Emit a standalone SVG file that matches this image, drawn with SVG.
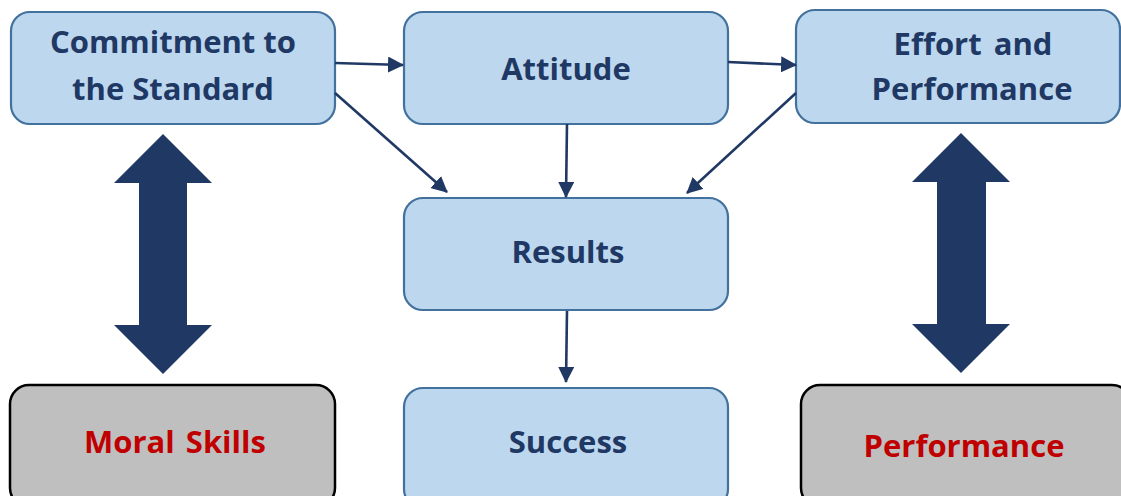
<svg xmlns="http://www.w3.org/2000/svg" width="1121" height="496" viewBox="0 0 1121 496">
<style>
.box{fill:#BDD7EE;stroke:#41719C;stroke-width:2.2}
.gbox{fill:#BFBFBF;stroke:#000000;stroke-width:2.5}
.t{font-family:"Open Sans","Noto Sans",sans-serif;font-weight:bold;font-size:31px;fill:#203864;text-anchor:middle}
.r{fill:#C00000}
.c{stroke:#203864;stroke-width:2.6;fill:none;marker-end:url(#ah)}
.big{fill:#203864}
</style>
<defs>
<marker id="ah" markerUnits="userSpaceOnUse" markerWidth="16" markerHeight="16" viewBox="0 0 16 16" refX="15" refY="8" orient="auto">
<path d="M0,0 L16,8 L0,16 Z" fill="#203864"/>
</marker>
</defs>
<rect width="1121" height="496" fill="#FFFFFF"/>
<g id="commitment">
<rect class="box" x="11" y="12" width="324" height="112" rx="19"/>
<text class="t" x="173" y="53">Commitment to</text>
<text class="t" x="173" y="100">the Standard</text>
</g>
<g id="attitude">
<rect class="box" x="404" y="12" width="324" height="112" rx="19"/>
<text class="t" x="566" y="80">Attitude</text>
</g>
<g id="effort">
<rect class="box" x="796" y="10" width="324" height="113" rx="19"/>
<text class="t" x="973" y="55" word-spacing="4">Effort and</text>
<text class="t" x="972" y="100">Performance</text>
</g>
<g id="results">
<rect class="box" x="404" y="198" width="324" height="112" rx="19"/>
<text class="t" x="568" y="263">Results</text>
</g>
<g id="success">
<rect class="box" x="404" y="388" width="324" height="120" rx="19"/>
<text class="t" x="568" y="453">Success</text>
</g>
<g id="moral">
<rect class="gbox" x="10" y="385" width="325" height="122" rx="19"/>
<text class="t r" x="175" y="453" word-spacing="3">Moral Skills</text>
</g>
<g id="performance">
<rect class="gbox" x="801" y="385" width="330" height="122" rx="19"/>
<text class="t r" x="964" y="457">Performance</text>
</g>
<g id="double-arrows">
<path class="big" d="M163,134 L212,183 L187,183 L187,325 L212,325 L163,374 L114,325 L139,325 L139,183 L114,183 Z"/>
<path class="big" d="M961,133 L1010,182 L986,182 L986,324 L1010,324 L961,373 L912,324 L937,324 L937,182 L912,182 Z"/>
</g>
<g id="connectors">
<line class="c" x1="335" y1="63" x2="403" y2="65"/>
<line class="c" x1="728" y1="62" x2="796" y2="65"/>
<line class="c" x1="335" y1="93" x2="447" y2="192"/>
<line class="c" x1="567" y1="124" x2="566" y2="197"/>
<line class="c" x1="796" y1="93" x2="687" y2="193"/>
<line class="c" x1="567" y1="311" x2="566" y2="382"/>
</g>
</svg>
